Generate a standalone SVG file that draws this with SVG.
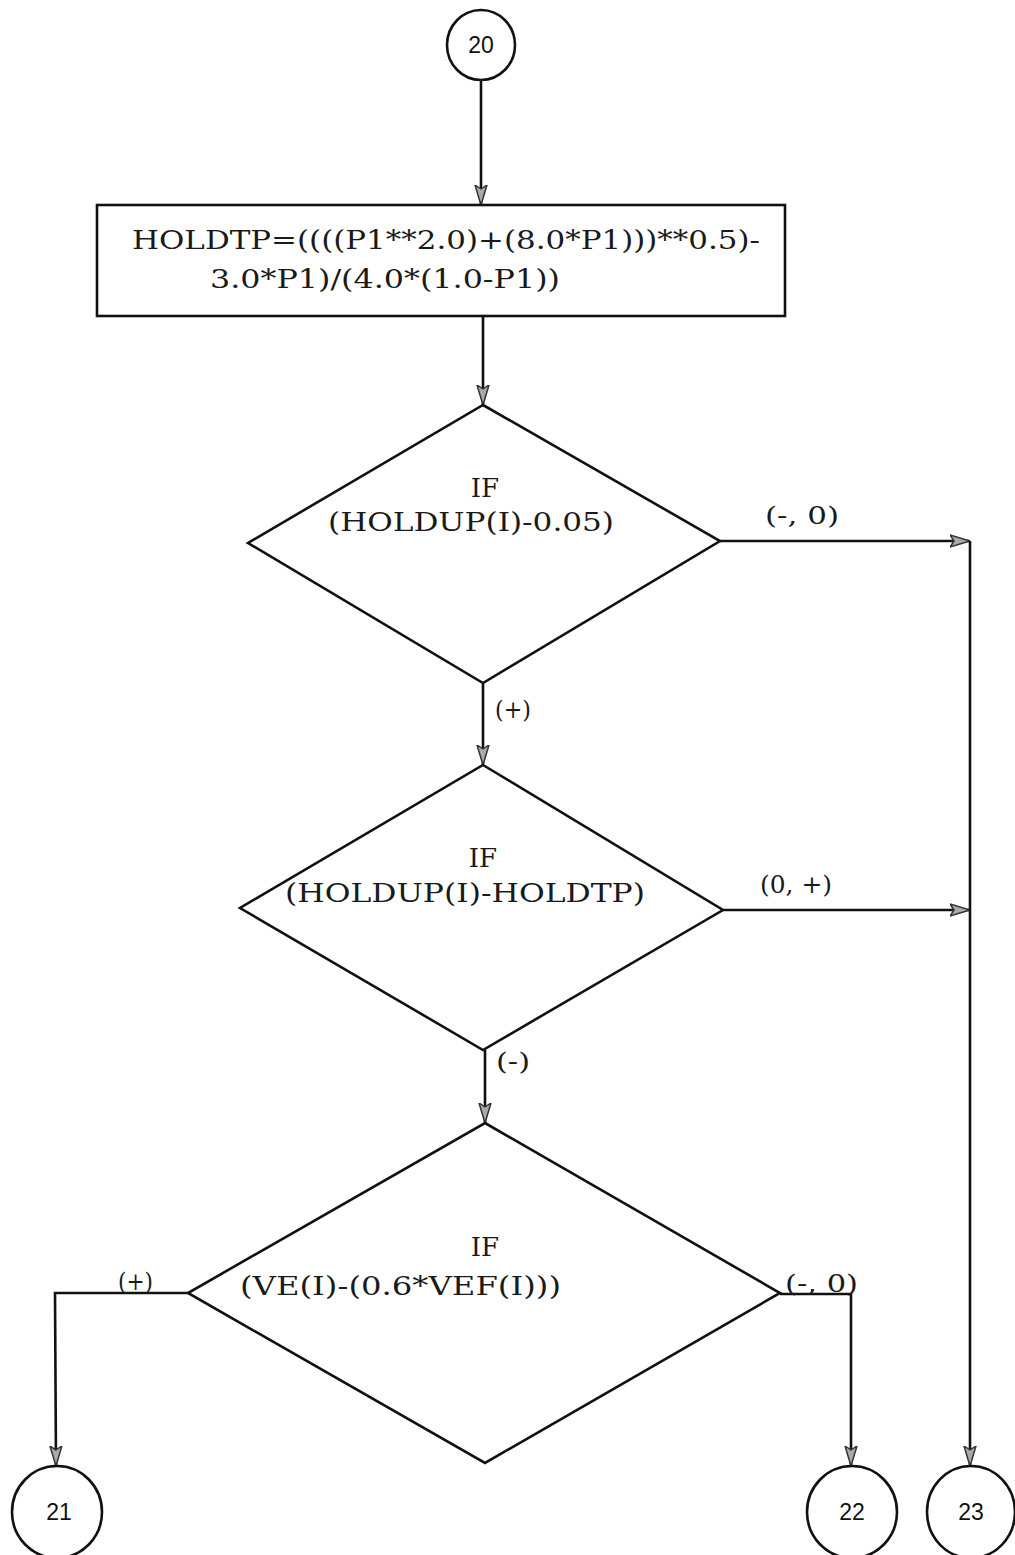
<svg xmlns="http://www.w3.org/2000/svg" width="1015" height="1555" viewBox="0 0 1015 1555">
<style>
.ln{fill:none;stroke:#111;stroke-width:2.6}
.sh{fill:#fff;stroke:#111;stroke-width:2.6}
.t{font-family:"DejaVu Serif","Liberation Serif",serif;font-size:26px;fill:#1a1a1a}
.l{font-family:"DejaVu Serif","Liberation Serif",serif;font-size:24px;fill:#1a1a1a}
.n{font-family:"Liberation Sans","DejaVu Sans",sans-serif;font-size:23px;fill:#111;text-anchor:middle}
</style>
<defs>
<marker id="ar" viewBox="0 0 20 14" refX="20" refY="7" markerWidth="20" markerHeight="14" markerUnits="userSpaceOnUse" orient="auto">
<path d="M0,1 L20,7 L0,13 L4,7 Z" fill="#aaa" stroke="#333" stroke-width="1.5" stroke-linejoin="round"/>
</marker>
</defs>
<g id="connectors">
<line class="ln" x1="481" y1="80" x2="481" y2="205" marker-end="url(#ar)"/>
<line class="ln" x1="483" y1="316" x2="483" y2="405" marker-end="url(#ar)"/>
<line class="ln" x1="720" y1="541" x2="970" y2="541" marker-end="url(#ar)"/>
<line class="ln" x1="483" y1="683" x2="483" y2="765" marker-end="url(#ar)"/>
<line class="ln" x1="723" y1="910" x2="970" y2="910" marker-end="url(#ar)"/>
<line class="ln" x1="485" y1="1050" x2="485" y2="1123" marker-end="url(#ar)"/>
<polyline class="ln" points="970,541 970,1466" marker-end="url(#ar)"/>
<polyline class="ln" points="188,1293 55,1293 56,1466" marker-end="url(#ar)"/>
<polyline class="ln" points="780,1294 851,1294 851,1466" marker-end="url(#ar)"/>
<text class="l" x="765" y="524" textLength="74" lengthAdjust="spacingAndGlyphs">(-, 0)</text>
<text class="l" x="495" y="718" textLength="36" lengthAdjust="spacingAndGlyphs">(+)</text>
<text class="l" x="760" y="893" textLength="72" lengthAdjust="spacingAndGlyphs">(0, +)</text>
<text class="l" x="496" y="1070" textLength="34" lengthAdjust="spacingAndGlyphs">(-)</text>
<text class="l" x="118" y="1290" textLength="35" lengthAdjust="spacingAndGlyphs">(+)</text>
<text class="l" x="785" y="1292" textLength="73" lengthAdjust="spacingAndGlyphs">(-, 0)</text>
</g>
<g id="n20">
<ellipse class="sh" cx="481" cy="45" rx="34" ry="35"/>
<text class="n" x="481" y="53">20</text>
</g>
<g id="holdtp">
<rect class="sh" x="97" y="205" width="688" height="111"/>
<text class="t" x="132" y="249" textLength="628" lengthAdjust="spacingAndGlyphs">HOLDTP=((((P1**2.0)+(8.0*P1)))**0.5)-</text>
<text class="t" x="210" y="288" textLength="350" lengthAdjust="spacingAndGlyphs">3.0*P1)/(4.0*(1.0-P1))</text>
</g>
<g id="if1">
<polygon class="sh" points="483,405 720,541 483,683 248,543"/>
<text class="t" x="485" y="497" text-anchor="middle">IF</text>
<text class="t" x="328" y="531" textLength="286" lengthAdjust="spacingAndGlyphs">(HOLDUP(I)-0.05)</text>
</g>
<g id="if2">
<polygon class="sh" points="483,765 723,910 483,1050 240,908"/>
<text class="t" x="483" y="867" text-anchor="middle">IF</text>
<text class="t" x="285" y="902" textLength="360" lengthAdjust="spacingAndGlyphs">(HOLDUP(I)-HOLDTP)</text>
</g>
<g id="if3">
<polygon class="sh" points="485,1123 780,1293 485,1463 188,1293"/>
<text class="t" x="485" y="1256" text-anchor="middle">IF</text>
<text class="t" x="240" y="1295" textLength="321" lengthAdjust="spacingAndGlyphs">(VE(I)-(0.6*VEF(I)))</text>
</g>
<g id="n21">
<ellipse class="sh" cx="57" cy="1512" rx="45" ry="46"/>
<text class="n" x="59" y="1520">21</text>
</g>
<g id="n22">
<ellipse class="sh" cx="852" cy="1512" rx="45" ry="46"/>
<text class="n" x="852" y="1520">22</text>
</g>
<g id="n23">
<ellipse class="sh" cx="971" cy="1512" rx="44" ry="46"/>
<text class="n" x="971" y="1520">23</text>
</g>
</svg>
